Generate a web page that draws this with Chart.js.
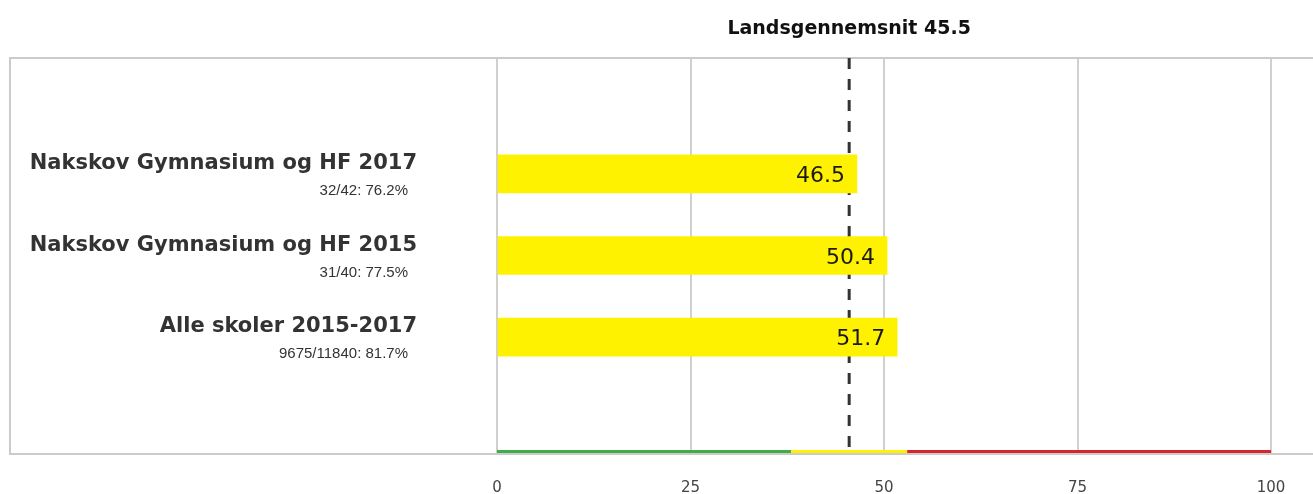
<!DOCTYPE html>
<html>
<head>
<meta charset="utf-8">
<script src="https://cdn.jsdelivr.net/npm/chart.js@4"></script>
<style>
  html, body { margin: 0; padding: 0; background: #fff; }
  #wrap { width: 1313px; height: 494px; position: relative; }
</style>
</head>
<body>
<div id="wrap"><canvas id="myChart"></canvas></div>
<script>
// data
const schools = ['Nakskov Gymnasium og HF 2017', 'Nakskov Gymnasium og HF 2015', 'Alle skoler 2015-2017'];
const subLabels = ['32/42: 76.2%', '31/40: 77.5%', '9675/11840: 81.7%'];
const values = [46.5, 50.4, 51.7];
const nationalAvg = 45.5;
const xTicks = [0, 25, 50, 75, 100];
// coloured band under the plot (green / yellow / red)
const bandStops = [0, 38, 53, 100];
const bandColors = ['#3fae49', '#fff200', '#d7262b'];

const labelPlugin = {
  id: 'labels',
  beforeDatasetsDraw(chart) {
    const ctx = chart.ctx
    const area = chart.chartArea
    const x = chart.scales.x
    // frame
    ctx.save()
    ctx.fillStyle = '#cbcbcb'
    ctx.fillRect(9, area.top - 1, chart.width - 9, 2)
    ctx.fillRect(9, area.top - 1, 2, area.bottom - area.top + 2)

    // national average dashed line (behind the bars)
    const ax = x.getPixelForValue(nationalAvg)
    ctx.strokeStyle = '#333'
    ctx.lineWidth = 3
    ctx.setLineDash([11, 10])
    ctx.beginPath()
    ctx.moveTo(ax, area.top)
    ctx.lineTo(ax, area.bottom)
    ctx.stroke()
    ctx.setLineDash([])

    ctx.font = 'bold 19px "DejaVu Sans"'
    ctx.fillStyle = '#111'
    ctx.textAlign = 'center'
    ctx.fillText('Landsgennemsnit ' + nationalAvg, ax, 34)
    ctx.restore()
  },
  afterDatasetsDraw(chart) {
    const ctx = chart.ctx
    const x = chart.scales.x
    const y = chart.scales.y
    const area = chart.chartArea

    ctx.save()
    // value labels inside bars
    ctx.font = '22px "DejaVu Sans"'
    ctx.fillStyle = '#1a1a1a'
    ctx.textAlign = 'right'
    ctx.textBaseline = 'alphabetic'
    values.forEach((v, i) => {
      ctx.fillText(v.toFixed(1), x.getPixelForValue(v) - 12, y.getPixelForValue(i) + 8)
    })

    // category labels
    schools.forEach((s, i) => {
      const cy = y.getPixelForValue(i)
      ctx.font = 'bold 21px "DejaVu Sans"'
      ctx.fillStyle = '#333'
      ctx.fillText(s, 417, cy - 5)
      ctx.font = '15px "Liberation Sans"'
      ctx.fillStyle = '#333'
      ctx.fillText(subLabels[i], 408, cy + 21)
    })

    // bottom line + colour band
    ctx.fillStyle = '#cbcbcb'
    ctx.fillRect(9, area.bottom, chart.width - 9, 2)
    for (let i = 0; i < bandColors.length; i++) {
      const x0 = x.getPixelForValue(bandStops[i])
      const x1 = x.getPixelForValue(bandStops[i + 1])
      ctx.fillStyle = bandColors[i]
      ctx.fillRect(x0, area.bottom - 3, x1 - x0, 3)
    }
    ctx.restore()
  }
}

const chart = new Chart('myChart', {
  type: 'bar',
  data: {
    datasets: [{
      data: values.map((v, i) => ({ x: v, y: i })),
      backgroundColor: '#fff200',
      borderWidth: 0,
      barThickness: 38,
    }]
  },
  options: {
    indexAxis: 'y',
    responsive: true,
    maintainAspectRatio: false,
    animation: false,
    layout: { padding: { left: 497, right: 42, top: 58, bottom: 0 } },
    plugins: {
      legend: { display: false },
      tooltip: { enabled: false },
    },
    scales: {
      x: {
        type: 'linear',
        min: 0,
        max: 100,
        afterBuildTicks: (scale) => { scale.ticks = xTicks.map(v => ({ value: v })) },
        afterFit: (scale) => { scale.height = 41 },
        grid: { color: '#d0d0d0', lineWidth: 2, drawTicks: false },
        border: { display: false },
        ticks: {
          padding: 26,
          color: '#444',
          font: { family: 'DejaVu Sans', size: 15 },
        },
      },
      y: {
        type: 'linear',
        min: -1.42,
        max: 3.42,
        offset: false,
        reverse: true,
        display: false,
      }
    }
  },
  plugins: [labelPlugin]
});
</script>
</body>
</html>
